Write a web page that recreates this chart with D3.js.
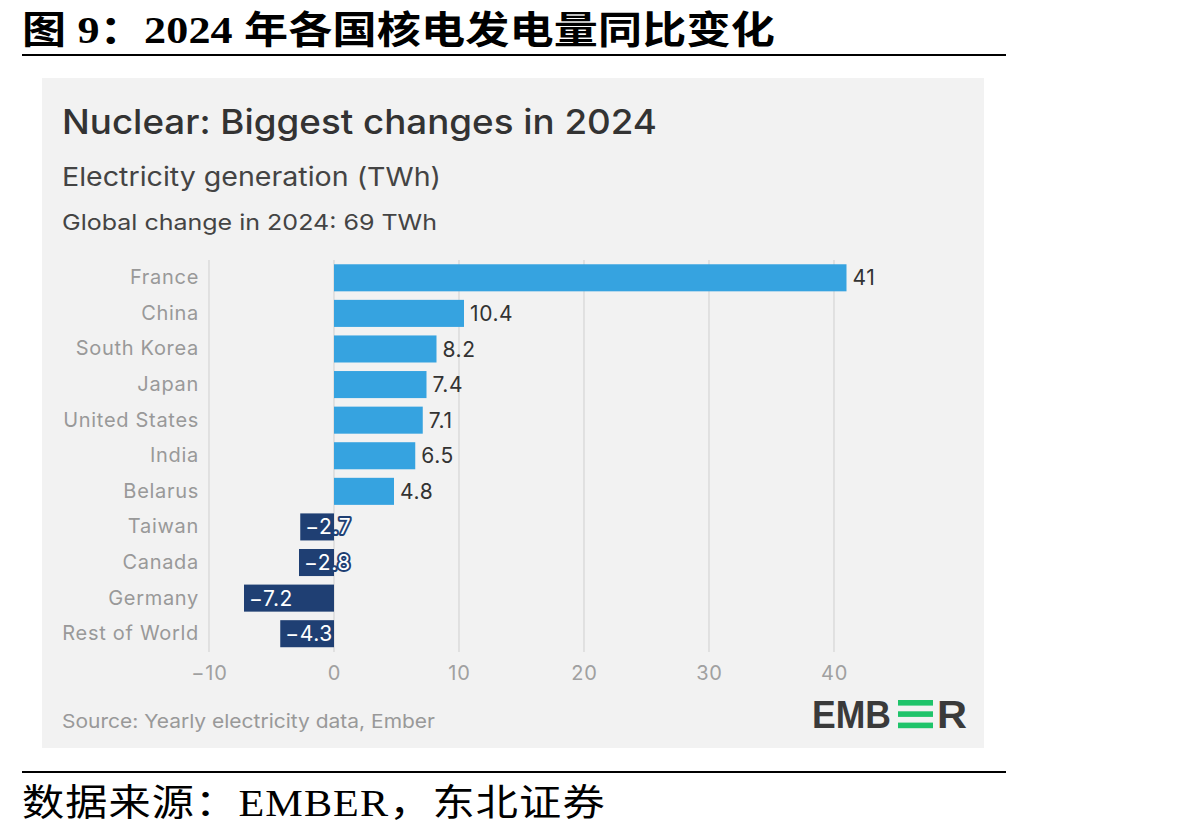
<!DOCTYPE html>
<html><head><meta charset="utf-8">
<script src="https://cdn.jsdelivr.net/npm/d3@7"></script>
<style>body{margin:0;background:#fff}svg{display:block}</style>
</head><body>
<script>
const categories = ["France","China","South Korea","Japan","United States","India","Belarus","Taiwan","Canada","Germany","Rest of World"];
const values = [41,10.4,8.2,7.4,7.1,6.5,4.8,-2.7,-2.8,-7.2,-4.3];
const labels = ["41","10.4","8.2","7.4","7.1","6.5","4.8","\u22122.7","\u22122.8","\u22127.2","\u22124.3"];
const ticks = [-10,0,10,20,30,40];
const tickLabels = ["\u221210","0","10","20","30","40"];

const W=1198,H=838;
const svg=d3.select("body").append("svg").attr("width",W).attr("height",H);
const sans="Inter, 'Open Sans', 'Noto Sans', sans-serif";
const cjk="'Liberation Serif','Noto Sans CJK SC',serif";

// Report header
svg.append("text").attr("transform","translate(22,43) scale(1.16,1)").attr("font-family",cjk).attr("font-weight","bold")
  .attr("font-size",38).attr("fill","#000").attr("textLength",649).attr("lengthAdjust","spacing")
  .text("图 9：2024 年各国核电发电量同比变化");
svg.append("line").attr("x1",22).attr("x2",1006).attr("y1",55).attr("y2",55).attr("stroke","#000").attr("stroke-width",2);
svg.append("rect").attr("x",42).attr("y",78).attr("width",942).attr("height",670).attr("fill","#f2f2f2");
svg.append("line").attr("x1",22).attr("x2",1006).attr("y1",772).attr("y2",772).attr("stroke","#000").attr("stroke-width",2);
svg.append("text").attr("transform","translate(22,816) scale(1.14,1)").attr("font-family",cjk)
  .attr("font-size",37).attr("fill","#000").attr("textLength",511).attr("lengthAdjust","spacing")
  .text("数据来源：EMBER，东北证券");

// Chart titles
svg.append("text").attr("x",62).attr("y",134).attr("font-family",sans).attr("font-weight",500)
  .attr("font-size",34).attr("fill","#333").attr("textLength",595).attr("lengthAdjust","spacingAndGlyphs")
  .text("Nuclear: Biggest changes in 2024");
svg.append("text").attr("x",62).attr("y",186).attr("font-family",sans)
  .attr("font-size",26).attr("fill","#444").attr("textLength",379).attr("lengthAdjust","spacingAndGlyphs")
  .text("Electricity generation (TWh)");
svg.append("text").attr("x",62).attr("y",230).attr("font-family",sans)
  .attr("font-size",22).attr("fill","#444").attr("textLength",375).attr("lengthAdjust","spacingAndGlyphs")
  .text("Global change in 2024: 69 TWh");

const x=d3.scaleLinear().domain([-10,40]).range([209,834]);
const y=d3.scaleBand().domain(categories).range([260,651.5]).paddingInner(0.24).paddingOuter(0.12);

// grid
svg.append("g").selectAll("line").data(ticks).join("line")
  .attr("x1",d=>x(d)).attr("x2",d=>x(d)).attr("y1",260).attr("y2",652)
  .attr("stroke","#cfcfcf").attr("stroke-width",1);

// x axis
const xa=svg.append("g").attr("transform","translate(0,652)")
  .call(d3.axisBottom(x).tickValues(ticks).tickFormat((d,i)=>tickLabels[i]).tickSize(0).tickPadding(14));
xa.select(".domain").remove();
xa.selectAll("text").attr("font-family",sans).attr("font-size",20).attr("letter-spacing",0.8).attr("fill","#a0a0a0");

// y axis
const ya=svg.append("g").attr("transform","translate(199,0)")
  .call(d3.axisLeft(y).tickSize(0).tickPadding(0));
ya.select(".domain").remove();
ya.selectAll("text").attr("font-family",sans).attr("font-size",20).attr("letter-spacing",0.7).attr("fill","#999");

// bars
const data=categories.map((c,i)=>({c,v:values[i],l:labels[i]}));
svg.append("g").selectAll("rect").data(data).join("rect")
  .attr("x",d=>x(Math.min(0,d.v))).attr("width",d=>Math.abs(x(d.v)-x(0)))
  .attr("y",d=>y(d.c)).attr("height",y.bandwidth())
  .attr("fill",d=>d.v>=0?"#36a3e0":"#1f3f73");

// labels
const lg=svg.append("g");
data.forEach(d=>{
  const cy=y(d.c)+y.bandwidth()/2;
  if(d.v>=0){
    lg.append("text").attr("x",x(d.v)+6).attr("y",cy).attr("dy","0.36em")
      .attr("font-family",sans).attr("font-size",21).attr("letter-spacing",0.6).attr("fill","#333").text(d.l);
  } else {
    lg.append("text").attr("x",x(d.v)+5).attr("y",cy).attr("dy","0.36em")
      .attr("font-family",sans).attr("font-size",21).attr("letter-spacing",0.6).attr("fill","#fff")
      .attr("stroke","#1f3f73").attr("stroke-width",4).attr("paint-order","stroke")
      .attr("stroke-linejoin","round").text(d.l);
  }
});

// Source
svg.append("text").attr("x",62).attr("y",728).attr("font-family",sans)
  .attr("font-size",19).attr("fill","#999").attr("textLength",373).attr("lengthAdjust","spacingAndGlyphs")
  .text("Source: Yearly electricity data, Ember");

// EMBER logo
const logo=svg.append("g").attr("font-family","'Liberation Sans',Arial,sans-serif").attr("font-weight","bold")
  .attr("font-size",39).attr("fill","#3a3a3a");
logo.append("text").attr("x",812).attr("y",728).attr("textLength",79).attr("lengthAdjust","spacingAndGlyphs").text("EMB");
[0,1,2].forEach(i=>logo.append("rect").attr("x",898).attr("y",700+i*11.3).attr("width",35).attr("height",5.6).attr("fill","#1fc46a"));
logo.append("text").attr("x",937).attr("y",728).attr("textLength",30).attr("lengthAdjust","spacingAndGlyphs").text("R");
</script>
</body></html>
